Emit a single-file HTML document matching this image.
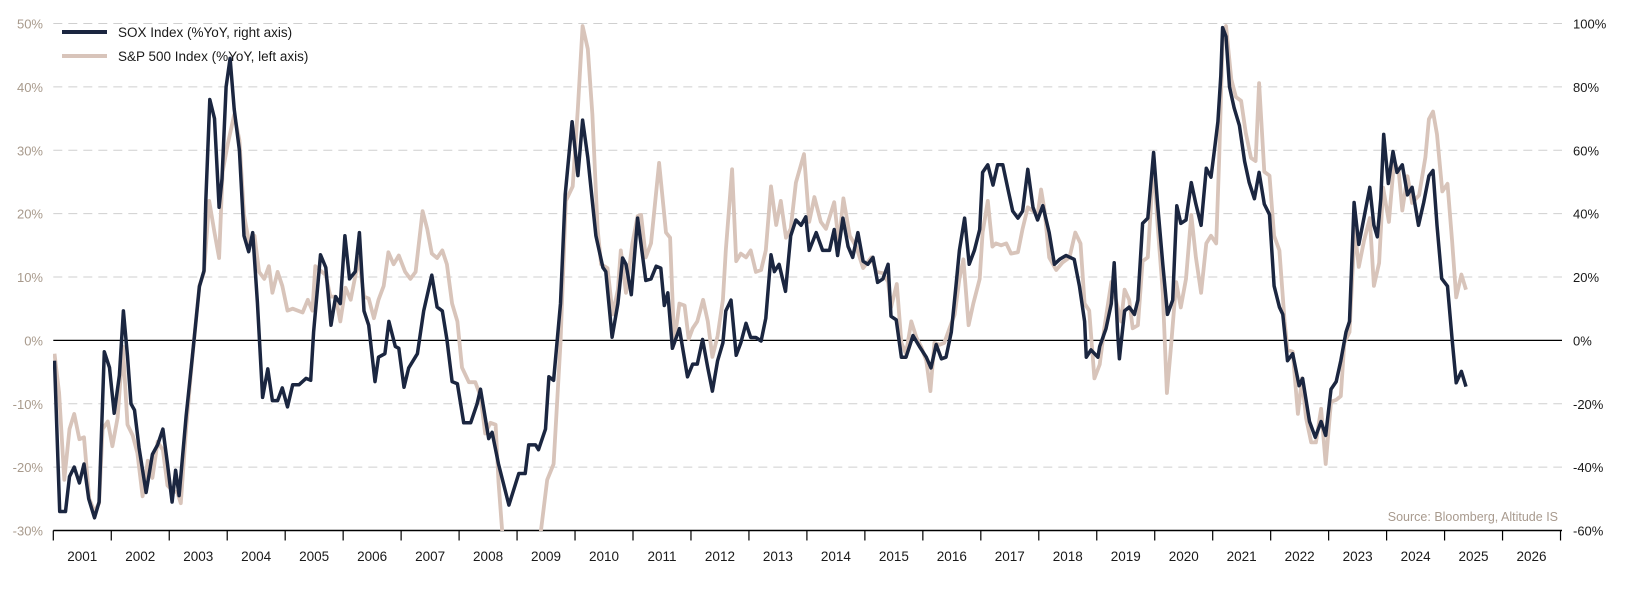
<!DOCTYPE html>
<html><head><meta charset="utf-8">
<style>
html,body{margin:0;padding:0;background:#fff;width:1627px;height:590px;overflow:hidden;}
svg{display:block;font-family:"Liberation Sans",sans-serif;}
</style></head>
<body>
<svg id="chart" width="1627" height="590" viewBox="0 0 1627 590" xmlns="http://www.w3.org/2000/svg">
  <defs><clipPath id="plotclip"><rect x="53" y="23" width="1509" height="508"/></clipPath></defs>
  <g id="grid"></g>
  <g id="axes"></g>
  <g id="series" clip-path="url(#plotclip)"></g>
  <g>
    <line x1="62" y1="32" x2="107" y2="32" stroke="#1b2640" stroke-width="4"/>
    <text x="118" y="37" font-size="13.5" fill="#1a1a1a">SOX Index (%YoY, right axis)</text>
    <line x1="62" y1="56" x2="107" y2="56" stroke="#d8c4ba" stroke-width="4"/>
    <text x="118" y="61" font-size="13.5" fill="#1a1a1a">S&amp;P 500 Index (%YoY, left axis)</text>
  </g>
  <text x="1558" y="521" text-anchor="end" font-size="12.5" fill="#a89a8e">Source: Bloomberg, Altitude IS</text>
</svg>
<script>
const leftTicks = [50,40,30,20,10,0,-10,-20,-30];
const rightTicks = [100,80,60,40,20,0,-20,-40,-60];
const yearLabels = [2001,2002,2003,2004,2005,2006,2007,2008,2009,2010,2011,2012,2013,2014,2015,2016,2017,2018,2019,2020,2021,2022,2023,2024,2025,2026];

const soxDates = [2001.02,2001.07,2001.11,2001.21,2001.28,2001.36,2001.45,2001.53,2001.61,2001.71,2001.79,2001.88,2001.97,2002.05,2002.14,2002.21,2002.28,2002.34,2002.40,2002.48,2002.60,2002.71,2002.80,2002.89,2002.97,2003.05,2003.11,2003.17,2003.29,2003.40,2003.52,2003.60,2003.63,2003.70,2003.78,2003.86,2003.91,2003.98,2004.05,2004.12,2004.21,2004.29,2004.37,2004.44,2004.52,2004.61,2004.70,2004.78,2004.87,2004.95,2005.04,2005.13,2005.24,2005.36,
2005.44,2005.49,2005.61,2005.70,2005.79,2005.87,2005.95,2006.03,2006.11,2006.21,2006.28,2006.36,2006.44,2006.55,2006.61,2006.72,2006.79,2006.90,2006.96,2007.05,2007.13,2007.28,2007.39,2007.53,2007.62,2007.71,2007.79,2007.88,2007.97,2008.08,2008.20,2008.31,2008.37,2008.51,2008.57,2008.68,2008.86,2009.03,2009.14,2009.20,2009.32,2009.37,2009.49,2009.55,2009.63,2009.75,2009.83,2009.95,
2010.05,2010.13,2010.22,2010.36,2010.48,2010.53,2010.64,2010.74,2010.82,2010.88,2010.97,2011.08,2011.22,2011.31,2011.40,2011.48,2011.54,2011.60,2011.68,2011.80,2011.94,2012.03,2012.11,2012.20,2012.29,2012.37,2012.46,2012.55,2012.60,2012.69,2012.78,2012.86,2012.95,2013.03,2013.12,2013.21,2013.29,2013.38,2013.44,2013.52,2013.63,2013.72,2013.81,2013.90,2013.98,2014.04,2014.16,2014.27,2014.39,2014.47,
2014.53,2014.62,2014.71,2014.79,2014.88,2014.97,2015.05,2015.14,2015.22,2015.31,2015.40,2015.45,2015.54,2015.63,2015.71,2015.83,2015.94,2016.06,2016.14,2016.23,2016.32,2016.40,2016.49,2016.57,2016.63,2016.72,2016.80,2016.89,2016.98,2017.03,2017.12,2017.21,2017.29,2017.38,2017.47,2017.55,2017.64,2017.72,2017.81,2017.90,2017.98,2018.07,2018.18,2018.27,2018.36,2018.47,2018.61,2018.70,2018.79,2018.82,2018.90,
2019.02,2019.05,2019.16,2019.25,2019.30,2019.36,2019.39,2019.48,2019.56,2019.65,2019.71,2019.79,2019.88,2019.98,2020.05,2020.14,2020.22,2020.31,2020.38,2020.45,2020.54,2020.63,2020.71,2020.80,2020.89,2020.97,2021.03,2021.09,2021.14,2021.17,2021.23,2021.29,2021.37,2021.46,2021.55,2021.63,2021.72,2021.80,2021.89,2021.98,2022.06,2022.15,2022.21,2022.29,2022.38,2022.49,2022.55,2022.67,2022.77,2022.87,2022.95,2023.04,2023.13,2023.21,2023.30,2023.36,
2023.44,2023.52,2023.61,2023.71,2023.78,2023.84,2023.90,2023.95,2024.03,2024.11,2024.18,2024.27,2024.36,2024.44,2024.55,2024.64,2024.73,2024.80,2024.87,2024.95,2025.05,2025.13,2025.20,2025.29,2025.37];
const soxValues = [-6.4,-33,-54,-54,-43,-40,-45,-39,-50,-56,-51,-3.6,-8.6,-23,-11,9.3,-5,-20,-22,-34,-48,-36,-33,-28,-39,-51,-41,-49,-24,-5,17,22,44,76,70,42,51,80,89,73,60,33,28,34,12,-18,-9,-19,-19,-15,-21,-14,-14,-12,
-12.6,2.6,27,23,4.8,13.8,11.6,33,19.4,21.7,34,9.3,4.8,-13,-5.3,-4.2,6,-1.9,-2.5,-14.8,-8.7,-4.2,9.3,20.6,10.5,9.3,0.3,-13,-13.7,-26,-26,-20,-15.4,-31,-29,-39,-52,-42,-42,-33,-33,-34.5,-28,-11.5,-12.6,11.6,46,69,
52,69.5,57.7,33,23,21.7,1,11.6,26,24,14.4,38.6,18.9,19.4,23.4,22.8,11,15,-2.5,3.7,-11.5,-7.5,-7.5,0.3,-8.7,-16,-6.4,-0.8,9.3,12.7,-4.7,-0.8,5.4,0.9,0.9,-0.2,7,27,21.7,24,15.5,33,38,36.3,39,28.4,34,28.4,28.4,35,
26.8,38.6,29.6,26.2,34,25,24,26.2,18.3,19.4,24,7.6,6.5,-5.3,-5.3,1.5,-1.9,-5.3,-8.7,-1.3,-5.8,-5.3,2.6,17,28.4,38.6,24,28.4,35,53,55.4,49,55.4,55.4,47.5,40.8,38.6,40.8,54,42,38,42.5,34,24,25.6,26.8,25.6,17.2,6,-5.3,-3,
-5.3,-1.9,3.7,11.6,24.5,2.6,-5.8,9.3,10.5,8.2,12.7,36.9,38.6,59.3,43,24,8.2,12.7,42.5,36.9,38,49.8,43,36.3,54.3,51.5,60,69,83.5,98.7,95.9,80,73.4,67.8,56.5,49.8,44.7,53,43,39.7,17.2,10.5,8.2,-6.4,-4.2,-14.3,-12,-25.6,-30.6,-25.6,-30,-15.4,-13,-6.4,2.6,6,
43.5,30.3,38.7,48.3,36.3,32.7,44.7,65,49.5,59.6,53,55.4,45.9,48.3,36.3,43.5,51.9,53.6,36.3,19.5,17.1,0.4,-13.4,-9.8,-14.6];

const spxDates = [2001.02,2001.10,2001.19,2001.28,2001.36,2001.45,2001.53,2001.62,2001.71,2001.79,2001.85,2001.94,2002.02,2002.11,2002.20,2002.28,2002.37,2002.45,2002.54,2002.63,2002.71,2002.80,2002.89,2002.97,2003.06,2003.14,2003.20,2003.29,2003.40,2003.52,2003.60,2003.69,2003.78,2003.86,2003.92,2004.01,2004.12,2004.21,2004.29,2004.38,2004.47,2004.55,2004.64,2004.72,2004.78,2004.87,2004.95,2005.04,2005.13,2005.30,2005.39,2005.47,
2005.52,2005.70,2005.78,2005.87,2005.95,2006.04,2006.13,2006.27,2006.36,2006.44,2006.53,2006.61,2006.70,2006.78,2006.87,2006.96,2007.07,2007.16,2007.25,2007.37,2007.45,2007.53,2007.62,2007.71,2007.79,2007.88,2007.97,2008.05,2008.17,2008.28,2008.37,2008.45,2008.54,2008.63,2008.68,2008.75,2008.90,2009.10,2009.20,2009.40,2009.52,2009.63,2009.75,2009.84,2009.96,
2010.05,2010.13,2010.22,2010.30,2010.39,2010.45,2010.56,2010.65,2010.74,2010.79,2010.88,2010.99,2011.08,2011.14,2011.22,2011.31,2011.45,2011.57,2011.64,2011.71,2011.80,2011.89,2011.96,2012.03,2012.11,2012.21,2012.29,2012.37,2012.46,2012.55,2012.60,2012.71,2012.78,2012.86,2012.95,2013.03,2013.12,2013.21,2013.29,2013.38,2013.47,2013.55,2013.64,2013.72,2013.81,2013.95,2014.04,2014.13,2014.24,2014.33,2014.47,
2014.55,2014.63,2014.74,2014.85,2014.97,2015.11,2015.20,2015.31,2015.40,2015.45,2015.55,2015.63,2015.71,2015.80,2015.89,2015.97,2016.06,2016.13,2016.20,2016.29,2016.37,2016.46,2016.55,2016.63,2016.70,2016.79,2016.87,2016.98,2017.03,2017.12,2017.20,2017.26,2017.35,2017.44,2017.52,2017.64,2017.72,2017.81,2017.90,2017.98,2018.04,2018.10,2018.18,2018.30,2018.41,2018.53,2018.63,2018.72,2018.79,2018.87,2018.96,2019.05,
2019.13,2019.25,2019.33,2019.42,2019.48,2019.56,2019.62,2019.71,2019.79,2019.88,2019.98,2020.05,2020.14,2020.21,2020.28,2020.37,2020.45,2020.54,2020.63,2020.71,2020.80,2020.89,2020.97,2021.06,2021.11,2021.17,2021.23,2021.32,2021.40,2021.49,2021.57,2021.66,2021.74,2021.80,2021.89,2021.98,2022.06,2022.15,2022.24,2022.29,2022.38,2022.47,2022.54,2022.61,2022.70,2022.78,2022.87,2022.95,2023.04,2023.13,2023.21,2023.27,2023.36,
2023.45,2023.52,2023.61,2023.71,2023.78,2023.87,2023.94,2024.04,2024.13,2024.21,2024.27,2024.36,2024.44,2024.56,2024.67,2024.73,2024.80,2024.87,2024.96,2025.05,2025.13,2025.20,2025.29,2025.37];
const spxValues = [-2.1,-8.3,-22,-14,-11.6,-15.6,-15.3,-25,-27,-25.7,-14,-12.8,-16.7,-12.2,-1,-13.3,-15,-17.8,-24.6,-19,-21.7,-16,-17.3,-22.9,-23.7,-24,-25.7,-13.9,-2.6,8.6,10.8,22,17,13,26.6,31,35.6,31.6,19.8,15.3,16.5,10.8,9.7,11.7,7.5,10.8,8.6,4.7,5,4.4,6.4,4.7,
11.7,10.3,6.9,6.9,3,8.3,6.4,13,6.9,6.6,3.5,6.4,8.6,13.9,12,13.4,10.8,9.7,10.8,20.4,17.6,13.7,13,14.2,12,5.8,3,-4.3,-6.6,-6.6,-8.8,-14.7,-13,-13.3,-22.3,-31,-40,-45,-42,-31,-22,-19.5,-0.4,22,24.3,
36.7,49.6,46,35.6,17.6,12,11.4,4.1,8,14.2,7.5,15.3,19.6,19.8,13.1,15.3,28,17,16.2,-0.4,5.8,5.5,0.2,1.9,3,6.4,3,-2.6,0.7,6.4,14.2,27,12.5,13.7,13.1,14.2,10.8,11.1,14.2,24.3,18.2,22,16.2,17.6,24.9,29.4,18.7,22.6,18.7,17.6,21.8,
15.3,22.4,16.5,14.8,11.4,13.1,10.8,10.6,9.2,5.2,8.9,-0.4,-2.1,3,0.4,-1,-3.2,-8,-0.4,-0.7,-0.4,1.9,4.1,9.7,12.8,2.4,5.8,9.7,17,22,14.8,15.3,15,15.3,13.7,13.9,17.6,21,20.4,19.8,23.8,20.4,13.1,11.1,12.3,13.1,17,15.3,5.8,4.7,-6,-3.8,
1.9,9.2,6.4,3,8,6.4,1.9,2.4,12.5,13.1,28.3,18.2,7.5,-8.3,-1,9.2,5.2,9.7,19.8,13.1,7.5,15.3,16.5,15.3,28.3,47.4,49.6,41.2,38.4,37.8,32.8,28.8,28.3,40.6,26.6,26,16.5,14.2,3,-1.5,-1.8,-11.6,-6,-12.2,-16.1,-16.1,-10.8,-19.5,-9.7,-9.4,-8.8,-0.4,1.3,
17.5,11.6,15.7,19.3,8.6,12.2,24.1,18.7,28.3,26.5,20.5,25.9,21.7,22.9,28.9,34.9,36.1,32.5,23.5,24.7,15.7,6.8,10.4,8];

const X0 = 53.3, YEARW = 57.97, X1 = 1562;
const YTOP = 23.5, YBOT = 530.5;
function xScale(d){ return X0 + (d - 2001) * YEARW; }
function yLeft(v){ return YTOP + (50 - v) / 80 * (YBOT - YTOP); }
function yRight(v){ return YTOP + (100 - v) / 160 * (YBOT - YTOP); }

const NS = 'http://www.w3.org/2000/svg';
function mk(tag, attrs, parent){ const e = document.createElementNS(NS, tag); for (const k in attrs) e.setAttribute(k, attrs[k]); parent.appendChild(e); return e; }

const grid = document.getElementById('grid');
const axes = document.getElementById('axes');
const series = document.getElementById('series');

leftTicks.forEach(function(v){
  const y = yLeft(v);
  if (v !== 0 && v !== -30) {
    const g = mk('line', {x1: X0, x2: X1, y1: y, y2: y, stroke: '#cfcfcf', 'stroke-width': 1, 'stroke-dasharray': '9,6'}, grid);
    
    
  }
  const t = mk('text', {x: 43, y: y + 5, 'text-anchor': 'end', 'font-size': 13, fill: '#a89a8c'}, axes);
  t.textContent = v + '%';
  
  
});
rightTicks.forEach(function(v){
  const y = yRight(v);
  const t = mk('text', {x: 1573, y: y + 5, 'font-size': 13, fill: '#1a1a1a'}, axes);
  t.textContent = v + '%';
  
  
});
const zl = mk('line', {x1: X0, x2: X1, y1: yLeft(0), y2: yLeft(0), stroke: '#000', 'stroke-width': 1.2}, axes);


const xa = mk('line', {x1: X0, x2: X1, y1: YBOT, y2: YBOT, stroke: '#000', 'stroke-width': 1.5}, axes);


for (let i = 0; i <= yearLabels.length; i++) {
  const x = xScale(2001 + i);
  const tk = mk('line', {x1: x, x2: x, y1: YBOT, y2: YBOT + 10, stroke: '#000', 'stroke-width': 1.2}, axes);
  
  
}
yearLabels.forEach(function(yr){
  const t = mk('text', {x: xScale(yr + 0.5), y: 561, 'text-anchor': 'middle', 'font-size': 13.5, fill: '#1a1a1a'}, axes);
  t.textContent = yr;
  
  
});

function pathFor(dates, vals, yf){
  return dates.map(function(d, i){ return (i ? 'L' : 'M') + xScale(d).toFixed(1) + ',' + yf(vals[i]).toFixed(1); }).join('');
}
const sp = mk('path', {d: pathFor(spxDates, spxValues, yLeft), fill: 'none', stroke: '#d8c4ba', 'stroke-width': 3.8, 'stroke-linejoin': 'round'}, series);


const so = mk('path', {d: pathFor(soxDates, soxValues, yRight), fill: 'none', stroke: '#1b2640', 'stroke-width': 3.5, 'stroke-linejoin': 'round'}, series);


</script>
</body></html>
